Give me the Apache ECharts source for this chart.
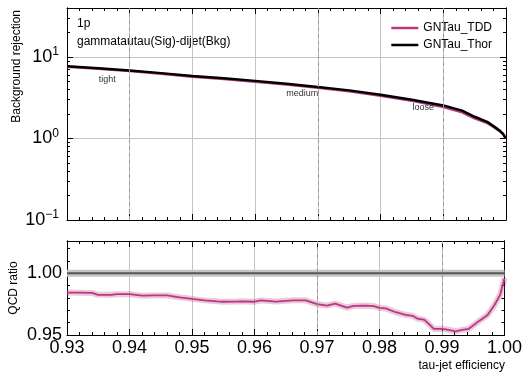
<!DOCTYPE html>
<html>
<head>
<meta charset="utf-8">
<script src="https://cdn.jsdelivr.net/npm/echarts@6/dist/echarts.min.js"></script>
<style>
  html, body { margin: 0; padding: 0; background: #fff; }
  #chart { width: 525px; height: 378px; }
</style>
</head>
<body>
<div id="chart"></div>
<script>
// efficiency points for the rejection curves
const effTop = [0.93, 0.935, 0.94, 0.945, 0.95, 0.955, 0.96, 0.965, 0.97, 0.975,
  0.98, 0.985, 0.99, 0.993, 0.995, 0.997, 0.998, 0.999, 0.9995, 1.0];
const thorRej = [7.7, 7.3, 6.85, 6.35, 5.85, 5.5, 5.1, 4.7, 4.3, 3.9,
  3.45, 3.0, 2.55, 2.2, 1.85, 1.6, 1.42, 1.25, 1.15, 1.0];
const tddRej = [7.58, 7.18, 6.73, 6.24, 5.73, 5.37, 4.98, 4.59, 4.19, 3.79,
  3.35, 2.9, 2.43, 2.1, 1.77, 1.55, 1.39, 1.23, 1.14, 1.0];

// ratio TDD / Thor
const effRatio = [0.93, 0.932, 0.934, 0.935, 0.937, 0.938, 0.94, 0.942, 0.944, 0.946,
  0.948, 0.95, 0.952, 0.954, 0.955, 0.957, 0.958, 0.96, 0.961, 0.9634,
  0.9661, 0.9682, 0.97, 0.9716, 0.9729, 0.9748, 0.9759, 0.9778, 0.9791, 0.98,
  0.981, 0.9826, 0.9842, 0.9853, 0.9861, 0.9872, 0.9887, 0.9898, 0.9906, 0.9922,
  0.993, 0.9943, 0.996, 0.9973, 0.9984, 0.9993, 1.0];
const tddRatio = [0.9843, 0.9842, 0.984, 0.9825, 0.9825, 0.983, 0.983, 0.9818, 0.982, 0.982,
  0.9805, 0.9792, 0.978, 0.9772, 0.9769, 0.977, 0.9772, 0.9769, 0.978, 0.977,
  0.978, 0.978, 0.9749, 0.9738, 0.9754, 0.9722, 0.9735, 0.9738, 0.9733, 0.9719,
  0.9715, 0.9684, 0.9662, 0.9655, 0.9632, 0.9622, 0.9549, 0.955, 0.9546, 0.953,
  0.954, 0.955, 0.9616, 0.9662, 0.9743, 0.9824, 0.996];
const refEff = [0.93, 1.0];
const refRatio = [1.0, 1.0];

// working points
const wpNames = ['tight', 'medium', 'loose'];
const wpEff = [0.94, 0.97, 0.99];

const magenta = '#b8397f';
const font = 'Liberation Sans';
const gridColor = '#c4c4c4';

const pairs = (xs, ys) => xs.map((x, i) => [x, ys[i]]);

// minor tick positions (log decades 2..9, linear 0.01 steps)
const logMinor = [];
[0.1, 1, 10].forEach(d => { for (let k = 2; k <= 9; k++) if (k * d <= 40) logMinor.push(+(k * d).toFixed(3)); });
const ratioMinor = [0.96, 0.97, 0.98, 0.99, 1.01, 1.02];

const chart = echarts.init(document.getElementById('chart'));

const line = () => ({ show: true, lineStyle: { color: '#000', width: 1 } });
const tick = (len, vals) => {
  const t = { show: true, inside: true, length: len, lineStyle: { color: '#000', width: 1 } };
  if (vals) t.customValues = vals;
  return t;
};

function xAx(grid, pos, labels) {
  return {
    type: 'value', gridIndex: grid, position: pos, min: 0.93, max: 1.0, interval: 0.01,
    axisLine: line(),
    axisTick: tick(6),
    minorTick: { show: true, splitNumber: 5, length: 3, lineStyle: { color: '#000', width: 1 } },
    splitLine: { show: pos === 'bottom', lineStyle: { color: gridColor, width: 1 } },
    axisLabel: labels ? {
      show: true, fontSize: 18, color: '#000', fontFamily: font, margin: 4,
      formatter: v => v.toFixed(2)
    } : { show: false }
  };
}

function logAx(pos, major) {
  return {
    type: 'log', logBase: 10, gridIndex: 0, position: pos, min: 0.1, max: 40,
    axisLine: line(),
    axisTick: major ? tick(6) : tick(3, logMinor),
    splitLine: { show: major && pos === 'left', lineStyle: { color: gridColor, width: 1 } },
    axisLabel: (major && pos === 'left') ? {
      show: true, showMaxLabel: false, margin: 8, fontFamily: font, color: '#000',
      formatter: v => {
        const e = Math.round(Math.log10(v));
        return '{b|10}{s|' + (e < 0 ? '\u2212' + (-e) : e) + '}';
      },
      rich: {
        b: { fontSize: 18, fontFamily: font, color: '#000', lineHeight: 22 },
        s: { fontSize: 12, fontFamily: font, color: '#000', verticalAlign: 'top', lineHeight: 22, padding: [0, 0, 12, 0] }
      }
    } : { show: false }
  };
}

function ratioAx(pos, major) {
  return {
    type: 'value', gridIndex: 1, position: pos, min: 0.95, max: 1.026, interval: 0.05,
    axisLine: line(),
    axisTick: major ? tick(6) : tick(3, ratioMinor),
    splitLine: { show: false },
    axisLabel: (major && pos === 'left') ? {
      show: true, showMaxLabel: false, fontSize: 18, color: '#000', fontFamily: font, margin: 5,
      formatter: v => v.toFixed(2)
    } : { show: false }
  };
}

const wpLine = (effs) => ({
  silent: true, symbol: 'none', animation: false,
  label: { show: false },
  lineStyle: { color: '#9a9a9a', type: [4, 3], width: 1 },
  data: effs.map(e => ({ xAxis: e }))
});

const option = {
  animation: false,
  textStyle: { fontFamily: font },
  grid: [
    { left: 67, right: 19, top: 8, height: 212 },
    { left: 67, right: 19, top: 241, height: 94 }
  ],
  xAxis: [xAx(0, 'bottom', false), xAx(0, 'top', false), xAx(1, 'bottom', true), xAx(1, 'top', false)],
  yAxis: [logAx('left', true), logAx('left', false), logAx('right', true), logAx('right', false),
    ratioAx('left', true), ratioAx('left', false), ratioAx('right', true), ratioAx('right', false)],
  legend: {
    data: ['GNTau_TDD', 'GNTau_Thor'],
    orient: 'vertical', right: 28, top: 17,
    icon: 'rect', itemWidth: 27, itemHeight: 2.5, itemGap: 5,
    textStyle: { fontSize: 12, color: '#000', fontFamily: font, padding: [2, 0, 2, 0] }
  },
  series: [
    {
      name: 'GNTau_TDD', type: 'line', xAxisIndex: 0, yAxisIndex: 0, symbol: 'none', z: 3,
      lineStyle: { color: magenta, width: 2.5 }, itemStyle: { color: magenta },
      data: pairs(effTop, tddRej)
    },
    {
      name: 'GNTau_Thor', type: 'line', xAxisIndex: 0, yAxisIndex: 0, symbol: 'none', z: 4,
      lineStyle: { color: '#000', width: 2.5 }, itemStyle: { color: '#000' },
      data: pairs(effTop, thorRej),
      markLine: wpLine(wpEff),
      markPoint: {
        silent: true, symbol: 'circle', symbolSize: 0,
        label: { show: true, formatter: '{b}', fontSize: 9, color: '#333', fontFamily: font },
        data: [
          { name: wpNames[0], coord: [0.9364, 5.3] },
          { name: wpNames[1], coord: [0.9675, 3.57] },
          { name: wpNames[2], coord: [0.9868, 2.37] }
        ]
      }
    },
    {
      name: 'Thor band', type: 'line', xAxisIndex: 2, yAxisIndex: 4, symbol: 'none', z: 2,
      lineStyle: { color: '#c6c6c6', width: 7 },
      data: pairs(refEff, refRatio),
      markLine: wpLine(wpEff.slice(1))
    },
    {
      name: 'Thor ratio', type: 'line', xAxisIndex: 2, yAxisIndex: 4, symbol: 'none', z: 3,
      lineStyle: { color: '#555', width: 2 },
      data: pairs(refEff, refRatio)
    },
    {
      name: 'TDD band', type: 'line', xAxisIndex: 2, yAxisIndex: 4, symbol: 'none', z: 2,
      lineStyle: { color: 'rgba(184,57,127,0.28)', width: 6 },
      data: pairs(effRatio, tddRatio)
    },
    {
      name: 'TDD ratio', type: 'line', xAxisIndex: 2, yAxisIndex: 4, symbol: 'none', z: 3,
      lineStyle: { color: magenta, width: 1.8 },
      data: pairs(effRatio, tddRatio)
    }
  ],
  graphic: [
    { type: 'text', x: 77, y: 24, style: { text: '1p', fontSize: 12, fill: '#000', fontFamily: font, verticalAlign: 'middle' } },
    { type: 'text', x: 77, y: 42, style: { text: 'gammatautau(Sig)-dijet(Bkg)', fontSize: 12, fill: '#000', fontFamily: font, verticalAlign: 'middle' } },
    { type: 'text', x: 17, y: 10, rotation: Math.PI / 2, style: { text: 'Background rejection', fontSize: 12, fill: '#000', fontFamily: font, align: 'right', verticalAlign: 'middle' } },
    { type: 'text', x: 14, y: 288, rotation: Math.PI / 2, style: { text: 'QCD ratio', fontSize: 12, fill: '#000', fontFamily: font, align: 'center', verticalAlign: 'middle' } },
    { type: 'text', x: 505, y: 366, style: { text: 'tau-jet efficiency', fontSize: 12, fill: '#000', fontFamily: font, align: 'right', verticalAlign: 'middle' } }
  ]
};

chart.setOption(option);
</script>
</body>
</html>
